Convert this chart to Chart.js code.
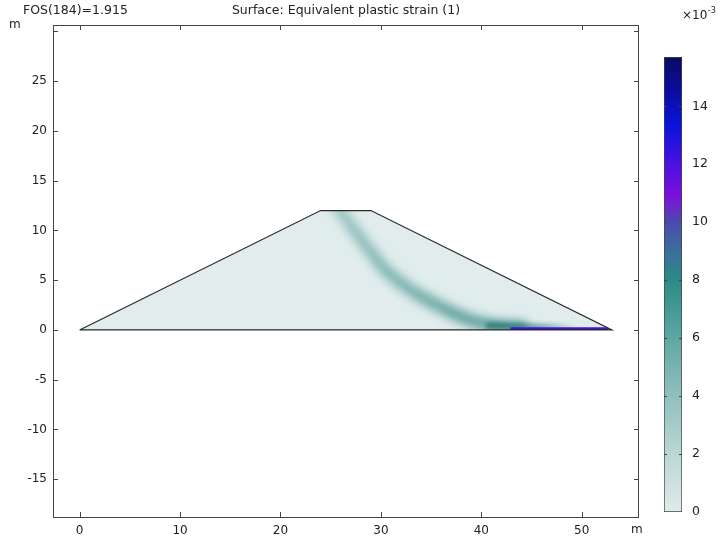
<!DOCTYPE html>
<html>
<head>
<meta charset="utf-8">
<script src="https://cdn.jsdelivr.net/npm/chart.js@4/dist/chart.umd.min.js"></script>
<style>
  html, body { margin: 0; padding: 0; background: #fff; }
  #wrap { position: relative; width: 721px; height: 541px; }
  #main { position: absolute; left: 0; top: 0; }
  #cbar { position: absolute; left: 640px; top: 0; }
</style>
</head>
<body>
<div id="wrap">
  <canvas id="main" width="721" height="541"></canvas>
  <canvas id="cbar" width="81" height="541"></canvas>
</div>
<script>
// ---- data ----
const titleLeft = 'FOS(184)=1.915';
const titleMain = 'Surface: Equivalent plastic strain (1)';
const unitLabel = 'm';
const xTicks = [0, 10, 20, 30, 40, 50];
const yTicks = [-15, -10, -5, 0, 5, 10, 15, 20, 25, 30];
const yLabelTicks = [-15, -10, -5, 0, 5, 10, 15, 20, 25];
const xRange = [-2.65, 55.7];
const yRange = [-18.8, 30.65];
const damX = [0, 24, 29, 53];
const damY = [0, 12, 12, 0];
const bandX = [25.5, 27.4, 28.9, 30.5, 33.0, 36.6, 38.9, 41.4, 44.5];
const bandY = [12.6, 10, 8, 6, 4, 2, 1, 0.45, 0.3];
const zoneX = [40.5, 43.5, 46.5, 49.5];
const zoneY = [0.45, 0.38, 0.32, 0.25];
const stripX = [42.9, 52.6];
const stripY = [0.13, 0.13];
const cbarTicks = [0, 2, 4, 6, 8, 10, 12, 14];
const cbarMax = 15.7;
const cbarExp = '-3';
// colormap (value x1e-3 -> colour)
const cmapVals = [0, 2, 4, 6, 8, 9, 10, 10.9, 12, 13.3, 14.5, 15.7];
const cmapCols = ['#e0ebea', '#bad7d4', '#8fc0bd', '#5fa7a3', '#2c8a85', '#3c6e9c', '#4a4cae', '#7c10dc', '#4c10e2', '#0a14dc', '#0a0ea0', '#0a0a62'];

const FONT = '"DejaVu Sans", Verdana, sans-serif';
const pts = (xs, ys) => xs.map((x, i) => ({ x: x, y: ys[i] }));

function bandColor(a0, a1) {
  return function (ctx) {
    const c = ctx.chart;
    if (!c.chartArea || !c.scales.y) return 'rgba(50,135,130,' + a0 + ')';
    const y0 = c.scales.y.getPixelForValue(12), y1 = c.scales.y.getPixelForValue(0);
    const g = c.ctx.createLinearGradient(0, y0, 0, y1);
    g.addColorStop(0, 'rgba(65,148,143,' + a0 + ')');
    g.addColorStop(0.6, 'rgba(50,138,133,' + ((a0 + a1) / 2) + ')');
    g.addColorStop(1, 'rgba(30,122,117,' + a1 + ')');
    return g;
  };
}

function zoneColor(ctx) {
  const c = ctx.chart;
  if (!c.chartArea || !c.scales.x) return 'rgba(28,112,108,0.6)';
  const x0 = c.scales.x.getPixelForValue(zoneX[0]), x1 = c.scales.x.getPixelForValue(zoneX[zoneX.length - 1]);
  const g = c.ctx.createLinearGradient(x0, 0, x1, 0);
  g.addColorStop(0, 'rgba(28,112,108,0.8)');
  g.addColorStop(0.6, 'rgba(28,112,108,0.55)');
  g.addColorStop(1, 'rgba(28,112,108,0)');
  return g;
}

// blur (px) per dataset index, applied while drawing; all marks clipped to the dam
const blurBy = {};
const datasets = [];
datasets.push({ // outline
  data: pts(damX.concat([damX[0]]), damY.concat([damY[0]])),
  showLine: true, borderColor: '#2a2a2a', borderWidth: 1.2, pointRadius: 0, fill: false, tension: 0
});
blurBy[datasets.length] = 0.6;
datasets.push({ // base strip
  data: pts(stripX, stripY),
  showLine: true, borderColor: '#4512dc', borderWidth: 3, pointRadius: 0, fill: false, tension: 0, borderCapStyle: 'butt'
});
blurBy[datasets.length] = 2;
datasets.push({ // dark zone near base
  data: pts(zoneX, zoneY),
  showLine: true, borderColor: zoneColor, borderWidth: 6, pointRadius: 0, fill: false, tension: 0.4
});
blurBy[datasets.length] = 5;
datasets.push({ // band core
  data: pts(bandX, bandY),
  showLine: true, borderColor: bandColor(0.5, 0.85), borderWidth: 6, pointRadius: 0,
  fill: false, tension: 0.4, borderCapStyle: 'butt'
});
blurBy[datasets.length] = 5;
datasets.push({ // band halo
  data: pts(bandX, bandY),
  showLine: true, borderColor: bandColor(0.16, 0.3), borderWidth: 16, pointRadius: 0,
  fill: false, tension: 0.4, borderCapStyle: 'butt'
});
datasets.push({ // dam fill
  data: pts(damX, damY),
  showLine: true, borderColor: 'rgba(0,0,0,0)', borderWidth: 0, pointRadius: 0,
  fill: 'origin', backgroundColor: '#e1eded', tension: 0
});

const clipBlur = {
  id: 'clipBlur',
  beforeDatasetDraw(chart, args) {
    const b = blurBy[args.index];
    if (b === undefined) return;
    const ctx = chart.ctx, xs = chart.scales.x, ys = chart.scales.y;
    ctx.save();
    ctx.beginPath();
    damX.forEach((x, i) => {
      const px = xs.getPixelForValue(x), py = ys.getPixelForValue(damY[i]);
      if (i === 0) ctx.moveTo(px, py); else ctx.lineTo(px, py);
    });
    ctx.closePath();
    ctx.clip();
    if (b > 0) ctx.filter = 'blur(' + b + 'px)';
  },
  afterDatasetDraw(chart, args) {
    if (blurBy[args.index] === undefined) return;
    chart.ctx.restore();
  }
};

const frame = {
  id: 'frame',
  afterDraw(chart) {
    const ctx = chart.ctx, a = chart.chartArea, xs = chart.scales.x, ys = chart.scales.y;
    ctx.save();
    ctx.strokeStyle = '#444'; ctx.lineWidth = 1;
    ctx.strokeRect(a.left + 0.5, a.top + 0.5, a.right - a.left - 1, a.bottom - a.top);
    ctx.beginPath();
    xTicks.forEach(v => {
      const p = Math.round(xs.getPixelForValue(v)) + 0.5;
      ctx.moveTo(p, a.bottom); ctx.lineTo(p, a.bottom - 5);
      ctx.moveTo(p, a.top); ctx.lineTo(p, a.top + 5);
    });
    yTicks.forEach(v => {
      const p = Math.round(ys.getPixelForValue(v)) + 0.5;
      ctx.moveTo(a.left, p); ctx.lineTo(a.left + 5, p);
      ctx.moveTo(a.right, p); ctx.lineTo(a.right - 5, p);
    });
    ctx.stroke();
    ctx.fillStyle = '#222';
    ctx.font = '12.5px ' + FONT;
    ctx.textBaseline = 'middle';
    ctx.textAlign = 'left';
    ctx.fillText(titleLeft, 23, 11);
    ctx.textAlign = 'center';
    ctx.fillText(titleMain, (a.left + a.right) / 2, 11);
    ctx.font = '12px ' + FONT;
    ctx.textAlign = 'left';
    ctx.fillText(unitLabel, 9, 25);
    ctx.fillText(unitLabel, 631, 530);
    ctx.restore();
  }
};

new Chart(document.getElementById('main'), {
  type: 'scatter',
  data: { datasets: datasets },
  options: {
    responsive: false, animation: false, devicePixelRatio: 1,
    layout: { padding: { left: 0, top: 25, right: 82, bottom: 0 } },
    plugins: { legend: { display: false }, tooltip: { enabled: false } },
    scales: {
      x: {
        type: 'linear', min: xRange[0], max: xRange[1],
        afterBuildTicks: s => { s.ticks = xTicks.map(v => ({ value: v })); },
        afterFit: s => { s.height = 24; },
        grid: { display: false, drawTicks: false }, border: { display: false },
        ticks: { padding: 7, color: '#222', font: { family: FONT, size: 12 }, maxRotation: 0 }
      },
      y: {
        type: 'linear', min: yRange[0], max: yRange[1],
        afterBuildTicks: s => { s.ticks = yLabelTicks.map(v => ({ value: v })); },
        afterFit: s => { s.width = 53; },
        grid: { display: false, drawTicks: false }, border: { display: false },
        ticks: { padding: 6, color: '#222', font: { family: FONT, size: 12 } }
      }
    }
  },
  plugins: [clipBlur, frame]
});

// ---- colour bar ----
function cbarGradient(ctx) {
  const c = ctx.chart;
  if (!c.chartArea || !c.scales.y) return cmapCols[0];
  const ys = c.scales.y;
  const top = ys.getPixelForValue(cbarMax), bot = ys.getPixelForValue(0);
  const g = c.ctx.createLinearGradient(0, bot, 0, top);
  cmapVals.forEach((v, i) => g.addColorStop(Math.min(1, v / cbarMax), cmapCols[i]));
  return g;
}

const cbarFrame = {
  id: 'cbarFrame',
  afterDraw(chart) {
    const ctx = chart.ctx, a = chart.chartArea, ys = chart.scales.y;
    ctx.save();
    ctx.strokeStyle = '#444'; ctx.lineWidth = 1;
    ctx.beginPath();
    cbarTicks.forEach(v => {
      const p = Math.round(ys.getPixelForValue(v)) + 0.5;
      if (v === 0) return;
      ctx.moveTo(a.left, p); ctx.lineTo(a.left + 3, p);
      ctx.moveTo(a.right, p); ctx.lineTo(a.right - 3, p);
    });
    ctx.stroke();
    ctx.fillStyle = '#222';
    ctx.textBaseline = 'middle';
    ctx.textAlign = 'left';
    ctx.font = '12px ' + FONT;
    ctx.fillText('\u00d710', 42, 16);
    const w = ctx.measureText('\u00d710').width;
    ctx.font = '8px ' + FONT;
    ctx.fillText(cbarExp, 42 + w + 0.5, 11);
    ctx.restore();
  }
};

new Chart(document.getElementById('cbar'), {
  type: 'bar',
  data: {
    labels: [''],
    datasets: [{
      data: [[0, cbarMax]],
      backgroundColor: cbarGradient,
      borderColor: '#444', borderWidth: 1, borderSkipped: false,
      categoryPercentage: 1, barPercentage: 1
    }]
  },
  options: {
    responsive: false, animation: false, devicePixelRatio: 1,
    layout: { padding: { left: 24, top: 57, bottom: 29, right: 0 } },
    plugins: { legend: { display: false }, tooltip: { enabled: false } },
    scales: {
      x: { display: false },
      y: {
        position: 'right', min: 0, max: cbarMax,
        afterBuildTicks: s => { s.ticks = cbarTicks.map(v => ({ value: v })); },
        afterFit: s => { s.width = 39; },
        grid: { display: false, drawTicks: false }, border: { display: false },
        ticks: { padding: 10, color: '#222', font: { family: FONT, size: 12.5 } }
      }
    }
  },
  plugins: [cbarFrame]
});
</script>
</body>
</html>
